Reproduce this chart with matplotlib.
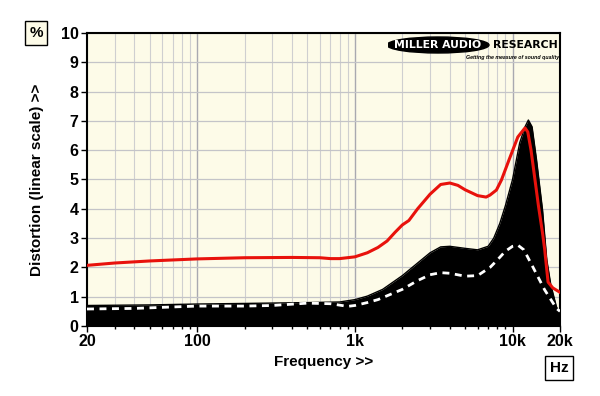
import matplotlib
matplotlib.use("Agg")
import matplotlib.pyplot as plt
from matplotlib.patches import Ellipse
import numpy as np

plt.rcParams['font.family'] = ['Liberation Sans', 'DejaVu Sans']

red_f = [20, 30, 50, 100, 200, 400, 600, 700, 800, 1000, 1200, 1400, 1600, 1800, 2000, 2200, 2500, 3000,
         3500, 4000, 4500, 5000, 6000, 6800, 7200, 7900, 8500, 9500, 10800, 12000, 12500, 13100, 13800,
         14600, 15500, 16000, 16800, 18000, 20000]
red_v = [2.07, 2.15, 2.22, 2.29, 2.33, 2.34, 2.33, 2.30, 2.30, 2.36, 2.5, 2.68, 2.9, 3.2, 3.45, 3.6, 4.0, 4.5,
         4.83, 4.88, 4.8, 4.65, 4.45, 4.4, 4.47, 4.64, 4.98, 5.67, 6.45, 6.76, 6.62, 6.0, 5.09,
         4.1, 3.17, 2.6, 1.5, 1.3, 1.15]

blk_f = [20, 50, 100, 200, 500, 800, 1000, 1200, 1500, 2000, 2500, 3000, 3500, 4000, 5000, 6000, 7000, 7600,
         8300, 9000, 10000, 11100, 12000, 12600, 13300, 14200, 15500, 16500, 17500, 19000, 20000]
blk_v = [0.7, 0.72, 0.75, 0.77, 0.8, 0.82, 0.9, 1.02, 1.25, 1.72, 2.15, 2.5, 2.7, 2.72, 2.65, 2.6, 2.72, 3.0,
         3.5, 4.1, 5.0, 6.25, 6.8, 7.03, 6.8, 5.67, 3.96, 2.25, 1.4, 0.65, 0.45]

wht_f = [20, 40, 70, 100, 200, 300, 500, 700, 900, 1000, 1200, 1400, 2000, 2500, 3000, 3500, 4000, 5000, 6000,
         7200, 8000, 9000, 10000, 10800, 11800, 13500, 16000, 19000, 20000]
wht_v = [0.58, 0.6, 0.65, 0.68, 0.68, 0.7, 0.78, 0.76, 0.67, 0.7, 0.8, 0.9, 1.25, 1.55, 1.75, 1.82, 1.8, 1.7, 1.72,
         2.0, 2.25, 2.55, 2.72, 2.76, 2.6, 2.0, 1.23, 0.6, 0.5]

xticks = [20, 100, 1000, 10000, 20000]
xtick_labels = ["20", "100", "1k", "10k", "20k"]
yticks = list(range(0, 11))

fig = plt.figure(figsize=(6, 3.96), dpi=100)
ax = fig.add_axes([87/600, 70/396, 473/600, 293/396])
ax.set_facecolor("#fdfbe8")
ax.set_xscale("log")
ax.set_xlim(20, 20000)
ax.set_ylim(0, 10)

minor = []
for d in [10, 100, 1000, 10000]:
    for m in range(1, 10):
        v = m * d
        if 20 <= v <= 20000:
            minor.append(v)
for v in minor:
    major = v in (100, 1000, 10000)
    ax.axvline(v, color="#a9a9b0" if major else "#cfcfd0", lw=1.0 if major else 0.8, zorder=0)
for y in yticks:
    ax.axhline(y, color="#c4c4c8", lw=0.9, zorder=0)

ax.fill_between(blk_f, 0, blk_v, color="black", lw=0, zorder=2)
ax.plot(blk_f, blk_v, color="black", lw=1, zorder=2)
ax.plot(wht_f, wht_v, color="white", lw=2, dashes=(2.5, 2), zorder=3)
ax.plot(red_f, red_v, color="#e8120c", lw=2.2, zorder=4)

ax.set_xticks(xticks)
ax.set_xticklabels(xtick_labels, fontsize=11.5, fontweight="bold")
ax.set_xticks([v for v in minor if v not in xticks], minor=True)
ax.xaxis.set_minor_formatter(matplotlib.ticker.NullFormatter())
ax.set_yticks(yticks)
ax.set_yticklabels([str(y) for y in yticks], fontsize=11.5, fontweight="bold")
ax.tick_params(axis="both", which="major", length=4, width=1, color="black", pad=2)
ax.tick_params(axis="x", which="minor", length=2, width=1, color="black")
for s in ax.spines.values():
    s.set_linewidth(1.5)
    s.set_color("black")

ax.set_xlabel("Frequency >>", fontsize=11, fontweight="bold", labelpad=4)
ax.set_ylabel("Distortion (linear scale) >>", fontsize=11, fontweight="bold", labelpad=12)

fig.text(36/600, 1 - 33/396, "%", ha="center", va="center", fontsize=11, fontweight="bold",
         bbox=dict(boxstyle="square,pad=0.3", fc="#fdfbe8", ec="black", lw=1))
fig.text(559/600, 1 - 368/396, "Hz", ha="center", va="center", fontsize=11, fontweight="bold",
         bbox=dict(boxstyle="square,pad=0.3", fc="white", ec="black", lw=1))

logo_ax = fig.add_axes([388/600, 1 - 64/396, 172/600, 30/396])
logo_ax.set_xlim(0, 172)
logo_ax.set_ylim(0, 30)
logo_ax.axis("off")
logo_ax.add_patch(Ellipse((50, 19), 102, 16, color="black"))
logo_ax.text(50, 19, "MILLER AUDIO", color="white", ha="center", va="center", fontsize=7.8,
             fontweight="bold", family="DejaVu Sans")
logo_ax.text(137, 19, "RESEARCH", color="black", ha="center", va="center", fontsize=7.8,
             fontweight="bold", family="DejaVu Sans")
logo_ax.text(171, 7, "Getting the measure of sound quality", color="black", ha="right", va="center",
             fontsize=3.8, style="italic", fontweight="bold")

fig.savefig("out.png", dpi=100, facecolor="white")
